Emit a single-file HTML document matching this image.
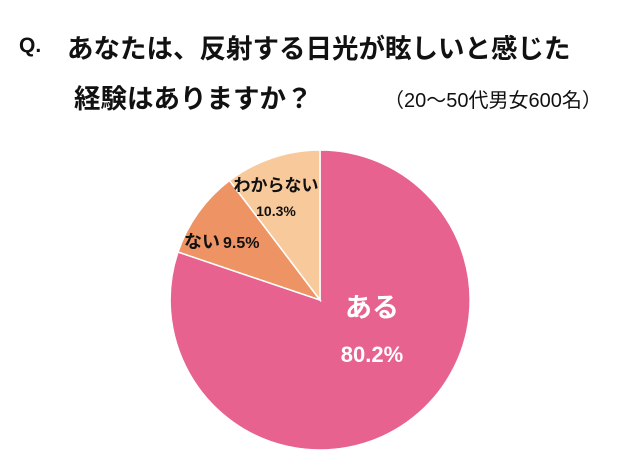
<!DOCTYPE html>
<html><head><meta charset="utf-8"><style>
html,body{margin:0;padding:0;background:#fff;}
body{width:640px;height:456px;position:relative;overflow:hidden;font-family:"Liberation Sans","Noto Sans CJK JP",sans-serif;}
.t{position:absolute;white-space:nowrap;color:#111;font-weight:bold;}
</style></head><body>
<div class="t" style="left:19px;top:34px;font-size:21px;">Q.</div>
<div class="t" style="left:67px;top:27px;font-size:26.5px;">あなたは、反射する日光が眩しいと感じた</div>
<div class="t" style="left:74px;top:77px;font-size:26.5px;">経験はありますか？</div>
<div class="t" style="left:384px;top:84px;font-size:20px;font-weight:normal;">（20～50代男女600名）</div>
<svg style="position:absolute;left:0;top:0" width="640" height="456">
<g stroke="#fff" stroke-width="1.5">
<path d="M320,300 L320,150 A150,150 0 1 1 178,252 Z" fill="#E8628F"/>
<path d="M320,300 L178,252 A150,150 0 0 1 229.5,180.5 Z" fill="#EE9464"/>
<path d="M320,300 L229.5,180.5 A150,150 0 0 1 320,150 Z" fill="#F8C99B"/>
</g>
<g font-family="Liberation Sans, Noto Sans CJK JP, sans-serif" font-weight="bold">
<text x="372" y="317" font-size="27" fill="#fff" text-anchor="middle">ある</text>
<text x="372" y="362" font-size="22" fill="#fff" text-anchor="middle">80.2%</text>
<text x="276" y="191" font-size="17" fill="#111" text-anchor="middle">わからない</text>
<text x="276" y="216" font-size="14" fill="#111" text-anchor="middle">10.3%</text>
<text x="184" y="248" font-size="18" fill="#111">ない</text>
<text x="223" y="248" font-size="16" fill="#111">9.5%</text>
</g>
</svg>
</body></html>
